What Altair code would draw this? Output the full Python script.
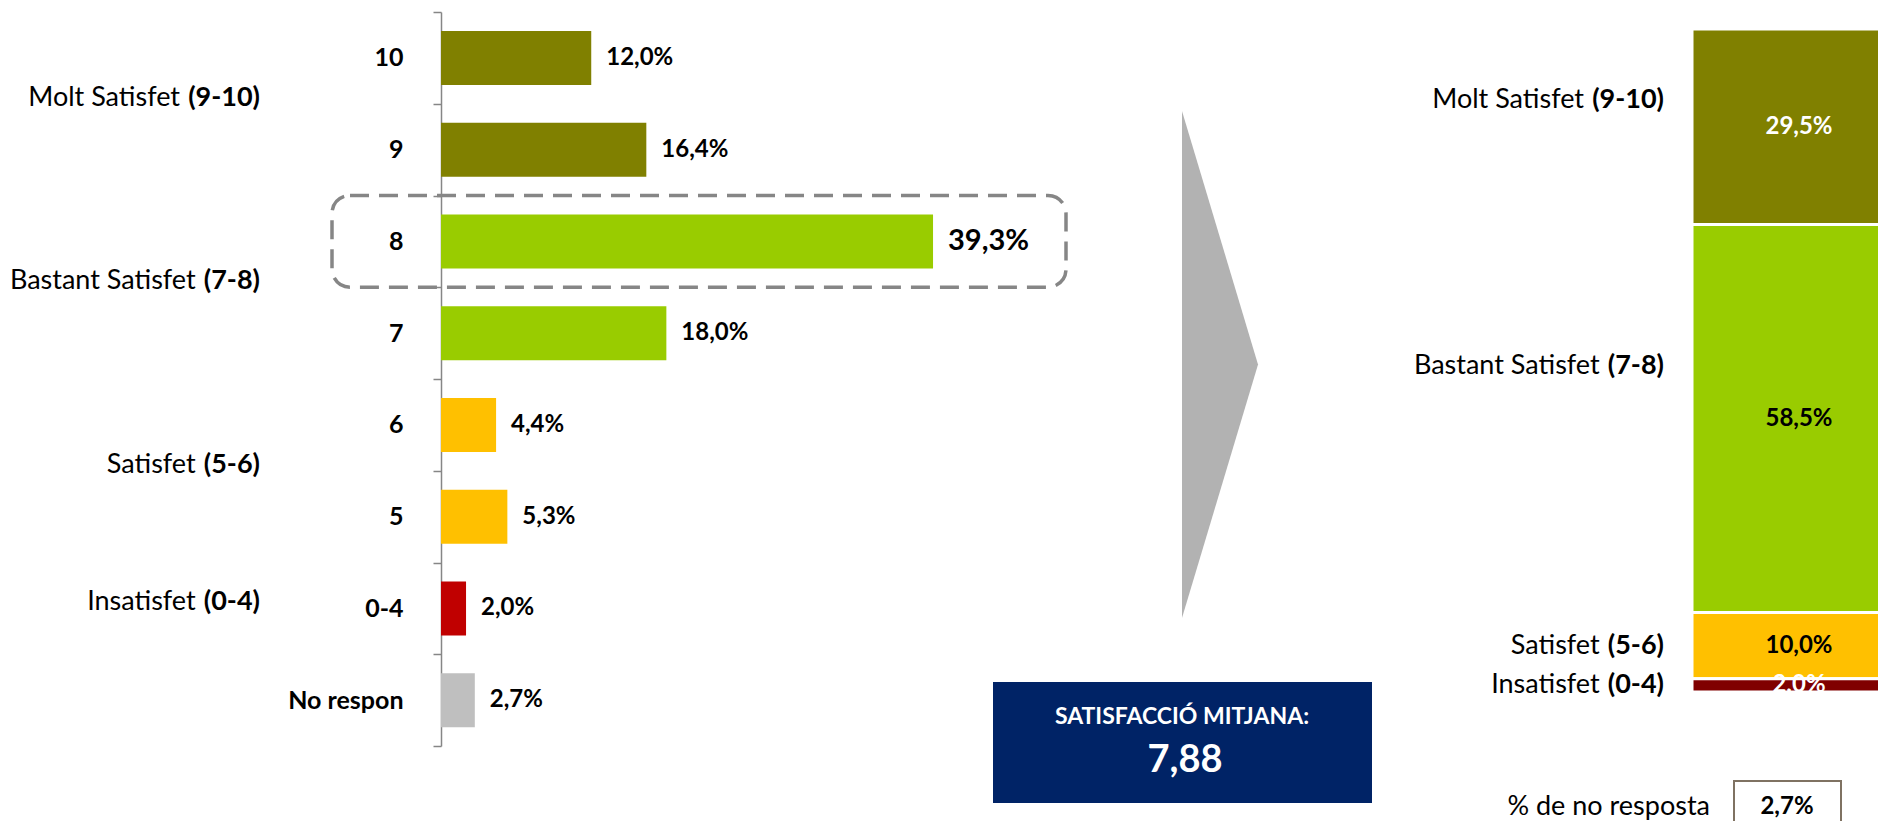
import altair as alt
import pandas as pd

# ---------------- data ----------------
cats = ["10", "9", "8", "7", "6", "5", "0-4", "No respon"]
pcts = [12.0, 16.4, 39.3, 18.0, 4.4, 5.3, 2.0, 2.7]
highlight = "8"

groups = ["Molt Satisfet\u00a0", "Bastant Satisfet", "Satisfet", "Insatisfet"]
ranges = ["(9-10)", "(7-8)", "(5-6)", "(0-4)"]
members = [["10", "9"], ["8", "7"], ["6", "5"], ["0-4"]]

summary_pcts = [29.5, 58.5, 10.0, 2.0]
mean_score = 7.88
no_response = pcts[cats.index("No respon")]

# ---------------- styles ----------------
FONT = "Lato"
left_colors = ["#808000", "#808000", "#99CC00", "#99CC00", "#FFC000", "#FFC000", "#C00000", "#BFBFBF"]
right_colors = ["#808000", "#99CC00", "#FFC000", "#800000"]
GRAY = "#868686"
NAVY = "#002366"

left_df = pd.DataFrame({"cat": cats, "pct": pcts})
group_df = pd.DataFrame({
    "name": groups,
    "rng": ranges,
    "pos": [sum(cats.index(m) for m in mem) / len(mem) for mem in members],
})
right_df = pd.DataFrame({
    "name": groups,
    "rng": ranges,
    "pct": summary_pcts,
    "ord": [len(groups) - i for i in range(len(groups))],
})
one = pd.DataFrame({"k": [0]})

fmt_pct = "replace(format(datum.pct, '.1f'), '.', ',') + '%'"

# ---------------- scales ----------------
yband = alt.Scale(type="band", domain=cats, range=[4, 738], paddingInner=0, paddingOuter=0)
ylin = alt.Scale(domain=[-0.5, len(cats) - 0.5], range=[4, 738])
xleft = alt.Scale(domain=[0, 40], range=[433, 933.8])
yright = alt.Scale(domain=[0, 100], range=[684, 21])

# ---------------- left bar chart ----------------
bars = alt.Chart(left_df).mark_bar(size=54).encode(
    y=alt.Y("cat:N", scale=yband, sort=cats, axis=alt.Axis(
        title=None, orient="left", offset=-433,
        domainColor=GRAY, domainWidth=1.5,
        tickColor=GRAY, tickWidth=1.5, tickSize=8, tickBand="extent",
        labelFont=FONT, labelFontSize=25, labelFontWeight="bold", labelColor="black",
        labelPadding=30, labelAlign="right", labelBaseline="middle")),
    x=alt.X("pct:Q", scale=xleft, axis=None),
    color=alt.Color("cat:N", scale=alt.Scale(domain=cats, range=left_colors), legend=None),
)

bar_labels = alt.Chart(left_df).transform_calculate(lab=fmt_pct).mark_text(
    align="left", baseline="middle", dx=15, font=FONT, fontWeight="bold", color="black"
).encode(
    y=alt.Y("cat:N", scale=yband, sort=cats, axis=None),
    x=alt.X("pct:Q", scale=xleft, axis=None),
    text="lab:N",
    size=alt.condition(alt.datum.cat == highlight, alt.value(29), alt.value(24)),
)

hl_box = alt.Chart(pd.DataFrame({"cat": [highlight]})).mark_rect(
    fill="white", fillOpacity=0, stroke=GRAY, strokeWidth=3.5,
    strokeDash=[19, 10], cornerRadius=18
).encode(
    y=alt.Y("cat:N", scale=yband, axis=None),
    x=alt.value(324), x2=alt.value(1058),
)

xn_left = "252 - (15.66 * length(datum.rng) - 21) - 7"
grp_bold = alt.Chart(group_df).mark_text(
    align="right", baseline="middle", dy=-6, font=FONT, fontSize=27, fontWeight="bold", color="black"
).encode(
    x=alt.value(252),
    y=alt.Y("pos:Q", scale=ylin, axis=None),
    text="rng:N",
)
grp_norm = alt.Chart(group_df).transform_calculate(xn=xn_left).mark_text(
    align="right", baseline="middle", dy=-6, font=FONT, fontSize=27, color="black"
).encode(
    x=alt.X("xn:Q", scale=None, axis=None),
    y=alt.Y("pos:Q", scale=ylin, axis=None),
    text="name:N",
)

# ---------------- arrow and mean box ----------------
arrow = alt.Chart(one).mark_point(
    shape="M-0.15,-1L0.15,0L-0.15,1Z", filled=True, size=507 ** 2,
    color="#B2B2B2", opacity=1, strokeWidth=0
).encode(x=alt.value(1212), y=alt.value(356.5))

navy = alt.Chart(one).mark_rect(color=NAVY).encode(
    x=alt.value(985), x2=alt.value(1364), y=alt.value(674), y2=alt.value(795)
)
navy_title = alt.Chart(one).mark_text(
    text="SATISFACCIÓ MITJANA:", font=FONT, fontSize=23, fontWeight="bold", color="white",
    align="center", baseline="middle"
).encode(x=alt.value(1174), y=alt.value(709))
navy_val = alt.Chart(pd.DataFrame({"v": [mean_score]})).transform_calculate(
    t="replace(format(datum.v, '.2f'), '.', ',')"
).mark_text(
    font=FONT, fontSize=38, fontWeight="bold", color="white", align="center", baseline="middle"
).encode(text="t:N", x=alt.value(1177), y=alt.value(753))

# ---------------- right stacked bar ----------------
rbase = alt.Chart(right_df).transform_stack(
    stack="pct", groupby=[], sort=[alt.SortField("ord", order="ascending")], as_=["y0", "y1"]
)
rbars = rbase.mark_bar(stroke="white", strokeWidth=3).encode(
    y=alt.Y("y0:Q", scale=yright, axis=None),
    y2="y1:Q",
    x=alt.value(1684), x2=alt.value(1880),
    color=alt.Color("name:N", scale=alt.Scale(domain=groups, range=right_colors), legend=None),
)
rtext = rbase.transform_calculate(mid="(datum.y0 + datum.y1) / 2", lab=fmt_pct).mark_text(
    font=FONT, fontSize=24, fontWeight="bold", align="center", baseline="middle"
).encode(
    y=alt.Y("mid:Q", scale=yright, axis=None),
    x=alt.value(1791),
    text="lab:N",
    color=alt.condition(
        alt.FieldOneOfPredicate(field="name", oneOf=[groups[0], groups[3]]),
        alt.value("white"), alt.value("black")),
)
ly = "datum.y0 + (datum.pct > 20 ? 0.635 : 0.5) * datum.pct"
xn_right = "1656 - (15.66 * length(datum.rng) - 21) - 7"
rlab_bold = rbase.transform_calculate(ly=ly).mark_text(
    align="right", baseline="middle", font=FONT, fontSize=27, fontWeight="bold", color="black"
).encode(
    x=alt.value(1656),
    y=alt.Y("ly:Q", scale=yright, axis=None),
    text="rng:N",
)
rlab_norm = rbase.transform_calculate(ly=ly, xn=xn_right).mark_text(
    align="right", baseline="middle", font=FONT, fontSize=27, color="black"
).encode(
    x=alt.X("xn:Q", scale=None, axis=None),
    y=alt.Y("ly:Q", scale=yright, axis=None),
    text="name:N",
)

# ---------------- no-response box ----------------
nr_text = alt.Chart(one).mark_text(
    text="% de no resposta", font=FONT, fontSize=27, color="black", align="right", baseline="middle"
).encode(x=alt.value(1702), y=alt.value(799))
nr_box = alt.Chart(one).mark_rect(
    fill="white", stroke="#7F7262", strokeWidth=2
).encode(x=alt.value(1726), x2=alt.value(1833), y=alt.value(773), y2=alt.value(830))
nr_val = alt.Chart(pd.DataFrame({"pct": [no_response]})).transform_calculate(lab=fmt_pct).mark_text(
    font=FONT, fontSize=24, fontWeight="bold", color="black", align="center", baseline="middle"
).encode(text="lab:N", x=alt.value(1779), y=alt.value(799))

chart = alt.layer(
    hl_box, bars, bar_labels, grp_norm, grp_bold,
    arrow, navy, navy_title, navy_val,
    rbars, rtext, rlab_norm, rlab_bold,
    nr_box, nr_text, nr_val,
).resolve_scale(
    x="independent", y="independent", color="independent", size="independent"
).properties(
    width=1870, height=813, padding=0,
    autosize=alt.AutoSizeParams(type="none"),
).configure_view(stroke=None)

chart.save("out.html", embed_options={"renderer": "svg", "actions": False})
